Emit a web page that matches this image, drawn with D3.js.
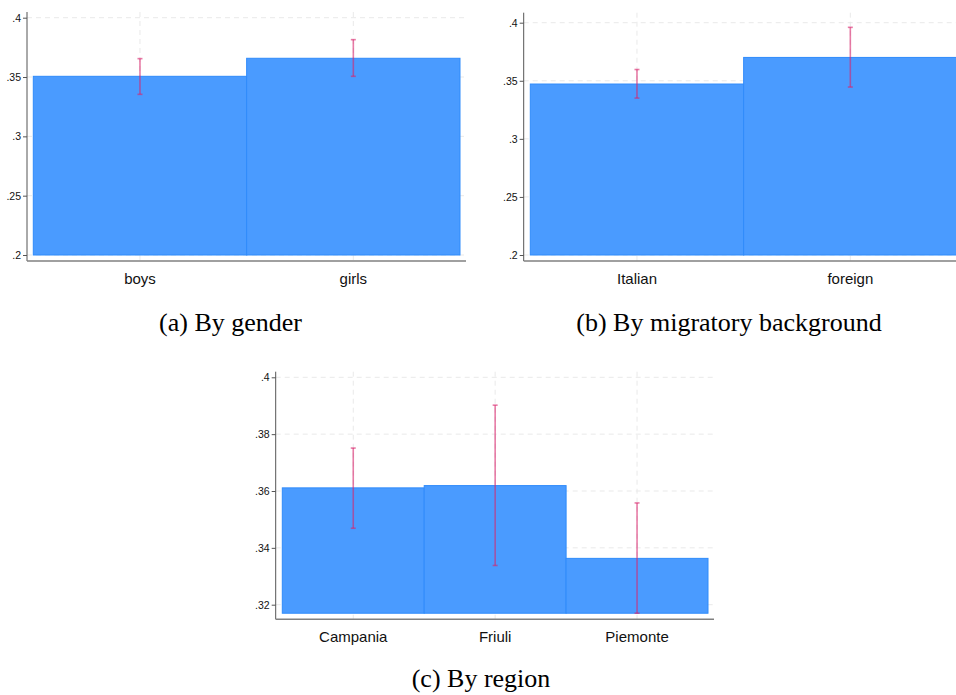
<!DOCTYPE html>
<html>
<head>
<meta charset="utf-8">
<script src="https://cdn.jsdelivr.net/npm/d3@7"></script>
<style>
  body { margin: 0; background: #fff; }
  .tick text { font-family: "Liberation Sans", Arial, sans-serif; }
  .caption { font-family: "Liberation Serif", "Times New Roman", serif; font-size: 26px; fill: #000; }
</style>
</head>
<body>
<svg id="vis"></svg>
<script>
// (a) by gender
const genderCats = ["boys", "girls"];
const genderMeans = [0.3506, 0.3658];
const genderLo = [0.3354, 0.3506];
const genderHi = [0.3655, 0.3815];

// (b) by migratory background
const migCats = ["Italian", "foreign"];
const migMeans = [0.3472, 0.3701];
const migLo = [0.3351, 0.3446];
const migHi = [0.3597, 0.3960];

// (c) by region
const regionCats = ["Campania", "Friuli", "Piemonte"];
const regionMeans = [0.3611, 0.3619, 0.3363];
const regionLo = [0.3469, 0.3338, 0.317];
const regionHi = [0.3751, 0.3902, 0.3558];

const ticksAB = [0.2, 0.25, 0.3, 0.35, 0.4];
const ticksC = [0.32, 0.34, 0.36, 0.38, 0.4];

const captions = ["(a) By gender", "(b) By migratory background", "(c) By region"];

const svg = d3.select("#vis")
  .attr("width", 956)
  .attr("height", 695);

const fmt = v => d3.format("")(v).replace(/^0\./, ".");

function drawPanel(p) {
  const g = svg.append("g");
  const x = d3.scaleBand().domain(p.cats).range(p.barRange).padding(0);
  const y = d3.scaleLinear().domain(p.domain).range(p.yRange);
  const rows = p.cats.map((c, i) => ({ cat: c, mean: p.means[i], lo: p.lo[i], hi: p.hi[i] }));

  // grid
  g.append("g").selectAll("line.h")
    .data(p.ticks)
    .enter().append("line")
    .attr("x1", p.axisX).attr("x2", p.xRight)
    .attr("y1", d => y(d)).attr("y2", d => y(d))
    .attr("stroke", "#e9e9e9").attr("stroke-dasharray", "5,4");
  g.append("g").selectAll("line.v")
    .data(p.cats)
    .enter().append("line")
    .attr("x1", d => x(d) + x.bandwidth() / 2).attr("x2", d => x(d) + x.bandwidth() / 2)
    .attr("y1", p.yTop).attr("y2", p.axisY)
    .attr("stroke", "#e9e9e9").attr("stroke-dasharray", "5,4");

  // bars
  g.append("g").selectAll("rect")
    .data(rows)
    .enter().append("rect")
    .attr("x", d => x(d.cat))
    .attr("width", x.bandwidth())
    .attr("y", d => y(d.mean))
    .attr("height", d => y(p.base) - y(d.mean))
    .attr("fill", "#4a9bff")
    .attr("stroke", "#2f8bfb")
    .attr("stroke-width", 1);

  // error bars
  const eb = g.append("g").selectAll("g")
    .data(rows)
    .enter().append("g")
    .attr("stroke", "#d8246c")
    .attr("stroke-opacity", 0.6)
    .attr("stroke-width", 1.6);
  const cx = d => x(d.cat) + x.bandwidth() / 2;
  eb.append("line")
    .attr("x1", cx).attr("x2", cx)
    .attr("y1", d => y(d.lo)).attr("y2", d => y(d.hi));
  eb.append("line")
    .attr("x1", d => cx(d) - 2.5).attr("x2", d => cx(d) + 2.5)
    .attr("y1", d => y(d.hi)).attr("y2", d => y(d.hi));
  eb.append("line")
    .attr("x1", d => cx(d) - 2.5).attr("x2", d => cx(d) + 2.5)
    .attr("y1", d => y(d.lo)).attr("y2", d => y(d.lo));

  // y axis
  const ya = g.append("g")
    .attr("transform", `translate(${p.axisX},0)`)
    .call(d3.axisLeft(y).tickValues(p.ticks).tickFormat(fmt).tickSize(4).tickPadding(2));
  ya.select(".domain").remove();
  ya.selectAll(".tick line").attr("stroke", "#555");
  ya.selectAll(".tick text").attr("font-size", 10.5).attr("fill", "#111");
  g.append("line")
    .attr("x1", p.axisX).attr("x2", p.axisX)
    .attr("y1", p.yTop).attr("y2", p.axisY)
    .attr("stroke", "#555").attr("stroke-width", 1);

  // x axis
  const xa = g.append("g")
    .attr("transform", `translate(0,${p.axisY})`)
    .call(d3.axisBottom(x).tickSize(0).tickPadding(12));
  xa.select(".domain").remove();
  xa.selectAll(".tick text").attr("font-size", 15).attr("fill", "#111");
  g.append("line")
    .attr("x1", p.axisX).attr("x2", p.xRight)
    .attr("y1", p.axisY).attr("y2", p.axisY)
    .attr("stroke", "#808080").attr("stroke-width", 1.6);

  svg.append("text")
    .attr("class", "caption")
    .attr("x", p.capX).attr("y", p.capY)
    .attr("text-anchor", "middle")
    .text(p.caption);
}

drawPanel({
  cats: genderCats, means: genderMeans, lo: genderLo, hi: genderHi,
  ticks: ticksAB, domain: [0.2, 0.4], base: 0.2,
  barRange: [33.3, 460], yRange: [255, 17.7],
  axisX: 27, axisY: 261, yTop: 12, xRight: 466,
  caption: captions[0], capX: 230.5, capY: 331
});

drawPanel({
  cats: migCats, means: migMeans, lo: migLo, hi: migHi,
  ticks: ticksAB, domain: [0.2, 0.4], base: 0.2,
  barRange: [530.3, 957], yRange: [255, 22.7],
  axisX: 523.7, axisY: 261, yTop: 12.7, xRight: 960,
  caption: captions[1], capX: 729, capY: 331
});

drawPanel({
  cats: regionCats, means: regionMeans, lo: regionLo, hi: regionHi,
  ticks: ticksC, domain: [0.32, 0.4], base: 0.317,
  barRange: [282.3, 708], yRange: [604.7, 377.3],
  axisX: 275.7, axisY: 619.3, yTop: 371.7, xRight: 714,
  caption: captions[2], capX: 481, capY: 687
});
</script>
</body>
</html>
